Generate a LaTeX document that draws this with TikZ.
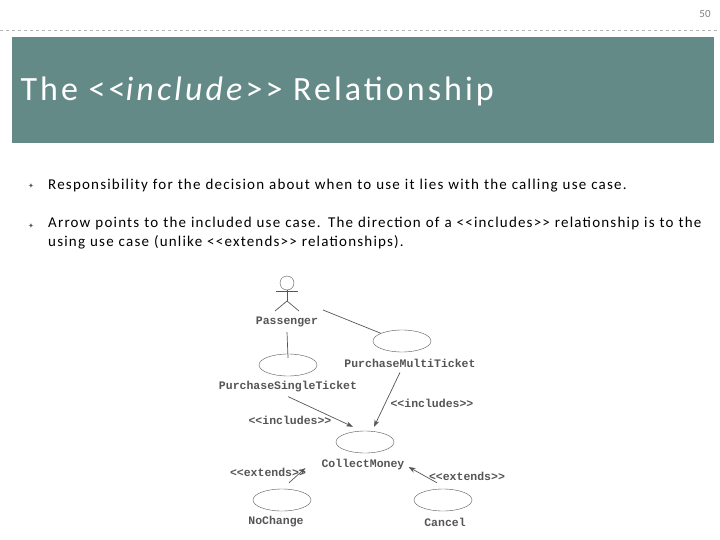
\documentclass[tikz,border=0pt]{standalone}
\usepackage{fontspec}
\setmainfont{Carlito}
\setmonofont{Liberation Mono}
\newfontfamily\symf{DejaVu Sans}
\usetikzlibrary{arrows.meta,shapes.geometric}
\definecolor{ttl}{HTML}{638A87}
\definecolor{dg}{HTML}{555555}
\begin{document}
\begin{tikzpicture}[x=1pt,y=-1pt,
 uc/.style={draw=dg,ellipse,minimum width=58pt,minimum height=22pt,inner sep=0pt},
 lbl/.style={font=\ttfamily\fontsize{11.5}{13}\selectfont\bfseries,text=dg,inner sep=1pt},
 ln/.style={draw=dg,line width=0.7pt},
 arr/.style={ln,-{Stealth[length=7pt,width=5pt]}},
 bul/.style={font=\fontsize{15}{19}\selectfont\addfontfeatures{LetterSpace=8},anchor=west,inner sep=0pt,align=left,text width=655pt}]
\useasboundingbox (0,0) rectangle (720,540);
\fill[white] (0,0) rectangle (720,540);
\draw[gray!60,dashed] (0,30) -- (720,30);
\node[text=gray,font=\fontsize{11}{13}\selectfont] (pg) at (705,14) {50};
\fill[ttl] (12,37) rectangle (714,143);
\node[anchor=west,text=white,font=\fontsize{34}{40}\selectfont\addfontfeatures{LetterSpace=9}] (title) at (17,91) {The <{}<\textit{include}>{}> Relationship};
\node[text=dg,font=\symf\scriptsize] (b1) at (31,186) {✦};
\node[bul] (t1) at (48,186) {Responsibility for the decision about when to use it lies with the calling use case.};
\node[text=dg,font=\symf\scriptsize] (b2) at (31,226) {✦};
\node[bul,anchor=north west] (t2) at (48,217) {Arrow points to the included use case. The direction of a <{}<includes>{}> relationship is to the using use case (unlike <{}<extends>{}> relationships).};
% actor
\node[draw=dg,circle,minimum size=14pt,inner sep=0pt] (head) at (287,283) {};
\coordinate (hip) at (287,301);
\draw[ln] (head.south) -- (hip);
\coordinate (al) at (276,291); \coordinate (ar) at (298,291);
\draw[ln] (al) -- (ar);
\coordinate (ll) at (275,311); \coordinate (lr) at (299,311);
\draw[ln] (ll) -- (hip) -- (lr);
\node[lbl] (pass) at (287,322) {Passenger};
\node[uc] (ps) at (288,365) {};
\node[lbl] (psl) at (288,387) {PurchaseSingleTicket};
\node[uc] (pm) at (402,341) {};
\node[lbl] (pml) at (410,363) {PurchaseMultiTicket};
\node[uc] (cm) at (365,442) {};
\node[lbl] (cml) at (363,465) {CollectMoney};
\node[uc] (nc) at (282,500) {};
\node[lbl] (ncl) at (276,522) {NoChange};
\node[uc] (ca) at (443,500) {};
\node[lbl] (cal) at (445,522) {Cancel};
\coordinate (p1) at (323,310);
\draw[ln] (p1) -- (pm.160);
\draw[ln] (pass.south) ++(0,4) -- ([yshift=-4pt]ps.north);
\draw[arr] (psl.south) ++(0,3) -- ([shift={(-12,-4)}]cm.north);
\node[lbl] (i1) at (290,420) {<<includes>>};
\draw[arr] (pml.south) ++(-10,4) -- ([shift={(9,-4)}]cm.north);
\node[lbl] (i2) at (432,403) {<<includes>>};
\draw[arr] (nc.north) ++(7,-6) -- ([shift={(-15,3)}]cml.west);
\node[lbl] (e1) at (268,472) {<<extends>>};
\draw[arr] (ca.north) ++(-6,-6) -- ([shift={(3,2)}]cml.east);
\node[lbl] (e2) at (467,476) {<<extends>>};
\end{tikzpicture}
\end{document}
